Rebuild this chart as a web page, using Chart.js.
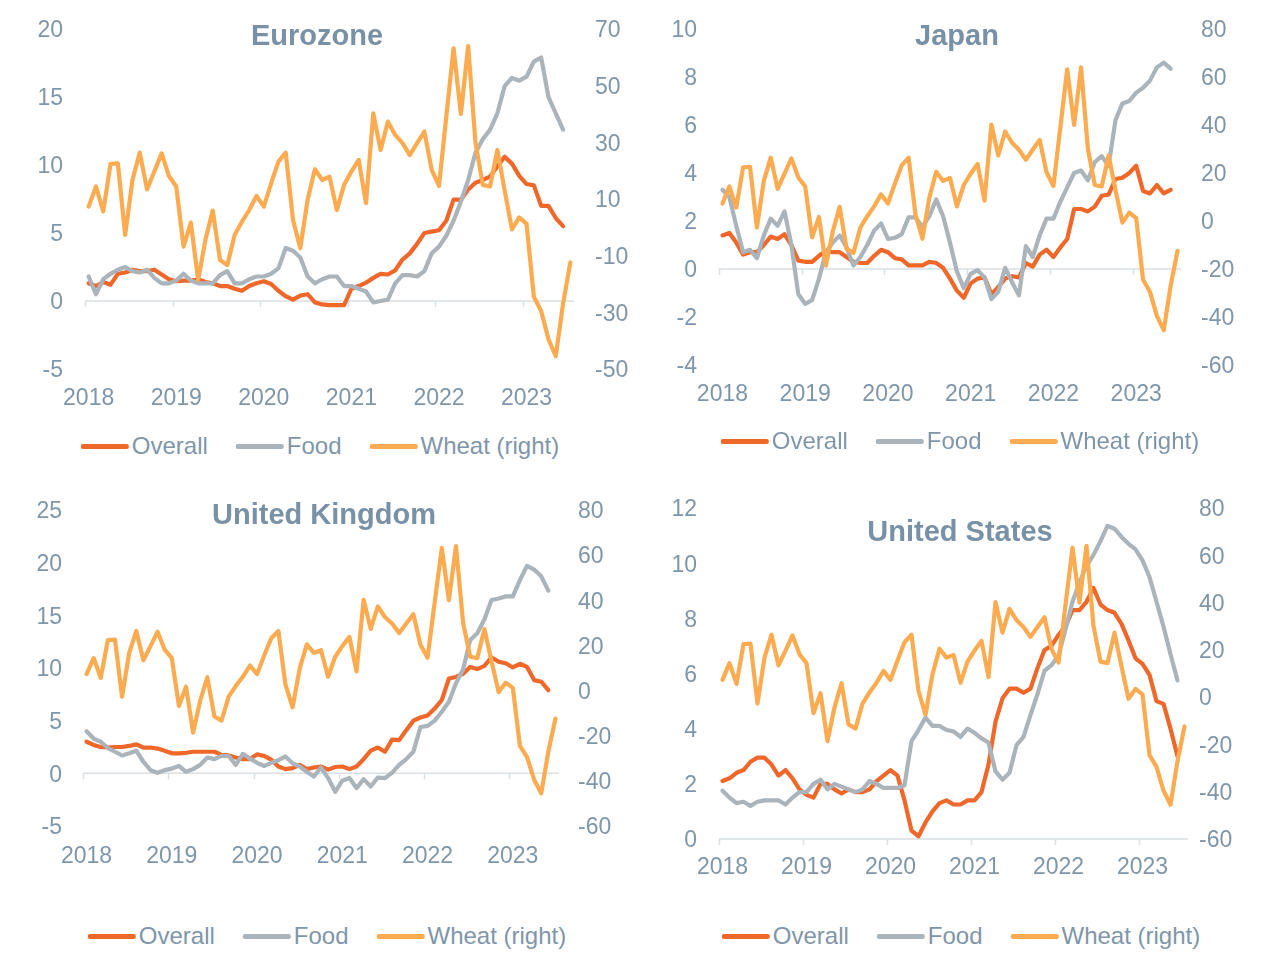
<!DOCTYPE html>
<html>
<head>
<meta charset="utf-8">
<title>Inflation and wheat prices</title>
<script src="https://cdn.jsdelivr.net/npm/chart.js@4.4.0/dist/chart.umd.min.js"></script>
<style>
  body { margin: 0; background: #ffffff; font-family: "Liberation Sans", Arial, sans-serif; }
  #page { position: relative; width: 1280px; height: 972px; overflow: hidden; }
  #page canvas { position: absolute; }
  .legend { position: absolute; display: flex; align-items: center; transform: translate(-50%, -50%);
            color: #7f96aa; font-size: 24px; white-space: nowrap; }
  .legend .item { display: flex; align-items: center; margin-right: 28px; }
  .legend .item:last-child { margin-right: 0; }
  .legend .swatch { width: 48px; height: 5px; margin-right: 3px; border-radius: 2px; }
</style>
</head>
<body>
<div id="page"></div>
<script>
// Monthly categories, Jan 2018 .. Jul 2023
var months = [
  'Jan 2018','Feb 2018','Mar 2018','Apr 2018','May 2018','Jun 2018','Jul 2018','Aug 2018','Sep 2018','Oct 2018','Nov 2018','Dec 2018',
  'Jan 2019','Feb 2019','Mar 2019','Apr 2019','May 2019','Jun 2019','Jul 2019','Aug 2019','Sep 2019','Oct 2019','Nov 2019','Dec 2019',
  'Jan 2020','Feb 2020','Mar 2020','Apr 2020','May 2020','Jun 2020','Jul 2020','Aug 2020','Sep 2020','Oct 2020','Nov 2020','Dec 2020',
  'Jan 2021','Feb 2021','Mar 2021','Apr 2021','May 2021','Jun 2021','Jul 2021','Aug 2021','Sep 2021','Oct 2021','Nov 2021','Dec 2021',
  'Jan 2022','Feb 2022','Mar 2022','Apr 2022','May 2022','Jun 2022','Jul 2022','Aug 2022','Sep 2022','Oct 2022','Nov 2022','Dec 2022',
  'Jan 2023','Feb 2023','Mar 2023','Apr 2023','May 2023','Jun 2023','Jul 2023'
];
var yearLabels = ['2018', '2019', '2020', '2021', '2022', '2023'];
var seriesNames = ['Overall', 'Food', 'Wheat (right)'];

// Wheat price, % y/y (same series in every panel, right axis)
var wheat = [
  7.3, 14.4, 5.6, 22.4, 22.6, -2.7, 16.7, 26.4, 13.4, 19.7, 26.1, 18.1,
  14.4, -6.8, 1.7, -18.6, -4.4, 5.9, -11.5, -13.3, -2.7, 2.0, 6.1, 11.1,
  7.3, 15.5, 23.2, 26.4, 2.6, -7.4, 9.7, 20.5, 16.7, 17.9, 6.1, 15.0,
  19.7, 23.8, 8.5, 40.2, 27.3, 37.3, 32.6, 29.7, 25.5, 29.7, 33.8, 20.3,
  14.6, 39.0, 63.2, 40.0, 64.0, 30.0, 15.0, 14.4, 27.3, 13.0, -0.7, 3.5,
  1.2, -24.5, -29.5, -39.5, -45.5, -27.0, -12.4
];

// Eurozone, % y/y
var ezOverall = [
  1.3, 1.1, 1.4, 1.2, 2.0, 2.1, 2.3, 2.2, 2.2, 2.3, 1.95, 1.6,
  1.45, 1.5, 1.5, 1.6, 1.4, 1.3, 1.1, 1.1, 0.9, 0.75, 1.1, 1.3,
  1.45, 1.25, 0.75, 0.35, 0.1, 0.4, 0.5, -0.1, -0.25, -0.3, -0.3, -0.3,
  0.9, 1.1, 1.35, 1.7, 2.0, 1.95, 2.25, 3.05, 3.5, 4.2, 5.0, 5.1,
  5.2, 5.9, 7.45, 7.45, 8.2, 8.7, 8.9, 9.15, 9.9, 10.6, 10.1, 9.2,
  8.6, 8.5, 7.0, 7.0, 6.1, 5.5
];
var ezFood = [
  1.8, 0.5, 1.6, 2.0, 2.3, 2.5, 2.2, 2.1, 2.3, 1.7, 1.3, 1.3,
  1.5, 2.0, 1.5, 1.3, 1.3, 1.3, 1.9, 2.2, 1.3, 1.3, 1.6, 1.8,
  1.8, 2.0, 2.4, 3.9, 3.7, 3.2, 1.8, 1.3, 1.6, 1.8, 1.8, 1.1,
  1.1, 0.9, 0.7, -0.1, 0.0, 0.1, 1.3, 1.9, 1.9, 1.8, 2.2, 3.5,
  4.0, 4.8, 5.9, 7.3, 8.9, 10.9, 11.9, 12.6, 13.8, 15.8, 16.4, 16.2,
  16.5, 17.6, 17.9, 15.0, 13.8, 12.6
];

// Japan, % y/y
var jpOverall = [
  1.4, 1.5, 1.1, 0.6, 0.7, 0.7, 1.0, 1.35, 1.25, 1.45, 1.0, 0.35,
  0.3, 0.3, 0.55, 0.75, 0.7, 0.7, 0.5, 0.3, 0.25, 0.25, 0.55, 0.8,
  0.7, 0.45, 0.4, 0.15, 0.15, 0.15, 0.3, 0.25, 0.05, -0.4, -0.9, -1.2,
  -0.6, -0.4, -0.35, -1.05, -0.75, -0.4, -0.3, -0.35, 0.25, 0.1, 0.6, 0.8,
  0.5, 0.9, 1.25, 2.5, 2.5, 2.4, 2.6, 3.05, 3.1, 3.75, 3.8, 4.0,
  4.3, 3.25, 3.15, 3.5, 3.15, 3.3
];
var jpFood = [
  3.3, 3.0, 1.8, 0.7, 0.8, 0.45, 1.4, 2.1, 1.8, 2.4, 1.0, -1.05,
  -1.45, -1.3, -0.4, 0.7, 1.1, 1.4, 0.9, 0.15, 0.5, 1.0, 1.6, 1.9,
  1.25, 1.3, 1.45, 2.15, 2.15, 1.75, 2.2, 2.9, 2.2, 1.1, -0.1, -0.8,
  -0.2, -0.05, -0.35, -1.25, -0.95, 0.05, -0.55, -1.1, 0.95, 0.5, 1.4, 2.1,
  2.1, 2.8, 3.4, 4.0, 4.1, 3.7, 4.45, 4.7, 4.3, 6.2, 6.9, 7.0,
  7.35, 7.55, 7.85, 8.4, 8.6, 8.35
];

// United Kingdom, % y/y
var ukOverall = [
  3.0, 2.7, 2.5, 2.45, 2.5, 2.5, 2.6, 2.75, 2.45, 2.45, 2.35, 2.15,
  1.9, 1.9, 1.95, 2.05, 2.05, 2.05, 2.05, 1.75, 1.7, 1.5, 1.35, 1.35,
  1.8, 1.65, 1.3, 0.65, 0.4, 0.5, 0.8, 0.4, 0.55, 0.65, 0.35, 0.6,
  0.65, 0.4, 0.65, 1.35, 2.15, 2.45, 2.05, 3.2, 3.15, 4.1, 5.0, 5.3,
  5.5, 6.15, 6.95, 9.0, 9.15, 9.45, 10.1, 9.9, 10.2, 11.0, 10.6, 10.45,
  10.05, 10.4, 10.1, 8.85, 8.7, 7.9
];
var ukFood = [
  4.0, 3.3, 3.0, 2.4, 2.05, 1.7, 1.9, 2.15, 1.1, 0.3, 0.05, 0.3,
  0.45, 0.7, 0.15, 0.4, 0.8, 1.5, 1.35, 1.65, 1.65, 0.8, 1.85, 1.4,
  1.0, 0.7, 1.0, 1.25, 1.6, 0.95, 0.65, 0.15, -0.3, 0.55, -0.45, -1.75,
  -0.7, -0.45, -1.4, -0.55, -1.25, -0.4, -0.45, 0.05, 0.8, 1.35, 2.05, 4.4,
  4.5, 5.0, 5.85, 6.8, 8.55, 9.85, 12.65, 13.3, 14.6, 16.45, 16.6, 16.8,
  16.8, 18.35, 19.7, 19.35, 18.7, 17.35
];

// United States, % y/y
var usOverall = [
  2.1, 2.2, 2.4, 2.5, 2.8, 2.95, 2.95, 2.7, 2.3, 2.5, 2.2, 1.8,
  1.6, 1.5, 2.0, 2.0, 1.8, 1.65, 1.8, 1.7, 1.7, 1.8, 2.1, 2.3,
  2.5, 2.3, 1.4, 0.3, 0.1, 0.6, 1.0, 1.3, 1.4, 1.25, 1.25, 1.4,
  1.4, 1.7, 2.7, 4.25, 5.1, 5.45, 5.45, 5.3, 5.45, 6.2, 6.85, 7.0,
  7.4, 7.7, 8.3, 8.3, 8.6, 9.1, 8.5, 8.3, 8.2, 7.8, 7.2, 6.55,
  6.35, 5.95, 5.0, 4.9, 4.0, 3.0
];
var usFood = [
  1.75, 1.5, 1.3, 1.35, 1.2, 1.35, 1.4, 1.4, 1.4, 1.25, 1.5, 1.7,
  1.7, 2.0, 2.15, 1.8, 2.0, 1.9, 1.8, 1.7, 1.8, 2.1, 2.0, 1.85,
  1.85, 1.85, 1.95, 3.55, 3.95, 4.4, 4.1, 4.1, 3.95, 3.9, 3.7, 4.0,
  3.85, 3.65, 3.5, 2.45, 2.15, 2.4, 3.4, 3.7, 4.5, 5.25, 6.1, 6.3,
  6.65, 7.6, 8.6, 9.3, 9.9, 10.3, 10.8, 11.35, 11.25, 10.95, 10.7, 10.5,
  10.1, 9.5, 8.6, 7.7, 6.7, 5.75
];

var COLORS = ['#f0672a', '#aab4ba', '#fdab50'];
var TEXT_COLOR = '#7f96aa';
var TITLE_COLOR = '#7891a6';
var AXIS_COLOR = '#d9e0e6';

// Panel layout (page coordinates). area = where the plot area must land.
var panels = [
  { title: 'Eurozone', overall: ezOverall, food: ezFood,
    left: { min: -5, max: 20, step: 5 }, right: { min: -50, max: 70, step: 20 },
    box: { x: 0, y: 0, w: 640, h: 430 }, area: { left: 85, right: 574, top: 29, bottom: 369 },
    leftPad: 22, rightPad: 21, xPad: 16, titleX: 317, titleY: 37, legendX: 320, legendY: 446 },
  { title: 'Japan', overall: jpOverall, food: jpFood,
    left: { min: -4, max: 10, step: 2 }, right: { min: -60, max: 80, step: 20 },
    box: { x: 640, y: 0, w: 640, h: 430 }, area: { left: 719, right: 1181, top: 29, bottom: 365 },
    leftPad: 22, rightPad: 20, xPad: 16, titleX: 957, titleY: 37, legendX: 960, legendY: 441 },
  { title: 'United Kingdom', overall: ukOverall, food: ukFood,
    left: { min: -5, max: 25, step: 5 }, right: { min: -60, max: 80, step: 20 },
    box: { x: 0, y: 480, w: 640, h: 430 }, area: { left: 83, right: 559, top: 510, bottom: 826 },
    leftPad: 21, rightPad: 19, xPad: 17, titleX: 324, titleY: 516, legendX: 327, legendY: 936 },
  { title: 'United States', overall: usOverall, food: usFood,
    left: { min: 0, max: 12, step: 2 }, right: { min: -60, max: 80, step: 20 },
    box: { x: 640, y: 480, w: 640, h: 430 }, area: { left: 719, right: 1188, top: 508, bottom: 839 },
    leftPad: 22, rightPad: 11, xPad: 15, titleX: 960, titleY: 533, legendX: 961, legendY: 936 }
];

Chart.defaults.font.family = '"Liberation Sans", Arial, sans-serif';
Chart.defaults.color = TEXT_COLOR;

/**
 * Draws the zero line with short year ticks hanging below it.
 */
var zeroAxisPlugin = {
  id: 'zeroAxis',
  beforeDatasetsDraw: function (chart) {
    var ctx = chart.ctx;
    var area = chart.chartArea;
    var xs = chart.scales.x;
    var y0 = chart.scales.y.getPixelForValue(0);
    var half = (xs.getPixelForValue(1) - xs.getPixelForValue(0)) / 2;
    ctx.save();
    ctx.strokeStyle = AXIS_COLOR;
    ctx.lineWidth = 1.5;
    ctx.beginPath();
    ctx.moveTo(area.left, y0);
    ctx.lineTo(area.right, y0);
    for (var i = 0; i < months.length; i += 12) {
      var px = Math.round(xs.getPixelForValue(i) - half) + 0.5;
      ctx.moveTo(px, y0);
      ctx.lineTo(px, y0 + 6);
    }
    ctx.stroke();
    ctx.restore();
  }
};

/**
 * Draws the panel title inside the plot, like the source workbook does.
 */
var panelTitlePlugin = {
  id: 'panelTitle',
  afterDraw: function (chart, args, opts) {
    var ctx = chart.ctx;
    ctx.save();
    ctx.font = 'bold 29px "Liberation Sans", Arial, sans-serif';
    ctx.fillStyle = TITLE_COLOR;
    ctx.textAlign = 'center';
    ctx.textBaseline = 'middle';
    ctx.fillText(opts.text, opts.x, opts.y);
    ctx.restore();
  }
};

// Fix an axis to a given size and stop its labels from pushing the plot area around.
function pinAxis(scale, size) {
  if (scale.isHorizontal()) {
    scale.height = size;
  } else {
    scale.width = size;
  }
  scale.paddingTop = 0;
  scale.paddingBottom = 0;
  scale.paddingLeft = 0;
  scale.paddingRight = 0;
}

function buildLegend(p) {
  var page = document.getElementById('page');
  var div = document.createElement('div');
  div.className = 'legend';
  div.style.left = p.legendX + 'px';
  div.style.top = p.legendY + 'px';
  seriesNames.forEach(function (name, i) {
    var item = document.createElement('div');
    item.className = 'item';
    var sw = document.createElement('span');
    sw.className = 'swatch';
    sw.style.background = COLORS[i];
    var txt = document.createElement('span');
    txt.textContent = name;
    item.appendChild(sw);
    item.appendChild(txt);
    div.appendChild(item);
  });
  page.appendChild(div);
}

function renderPanel(p) {
  var page = document.getElementById('page');
  var canvas = document.createElement('canvas');
  canvas.width = p.box.w;
  canvas.height = p.box.h;
  canvas.style.left = p.box.x + 'px';
  canvas.style.top = p.box.y + 'px';
  canvas.style.width = p.box.w + 'px';
  canvas.style.height = p.box.h + 'px';
  page.appendChild(canvas);

  var tickFont = { size: 23 };
  var noGrid = { display: false, drawTicks: false };

  new Chart(canvas.getContext('2d'), {
    type: 'line',
    data: {
      labels: months,
      datasets: [
        { label: seriesNames[0], data: p.overall, borderColor: COLORS[0], backgroundColor: COLORS[0], yAxisID: 'y', order: 3 },
        { label: seriesNames[1], data: p.food, borderColor: COLORS[1], backgroundColor: COLORS[1], yAxisID: 'y', order: 2 },
        { label: seriesNames[2], data: wheat, borderColor: COLORS[2], backgroundColor: COLORS[2], yAxisID: 'y1', order: 1 }
      ]
    },
    options: {
      responsive: false,
      animation: false,
      devicePixelRatio: 1,
      layout: { padding: { top: p.area.top - p.box.y, left: 0, right: 0, bottom: 0 } },
      elements: {
        line: { borderWidth: 4.2, tension: 0, fill: false, borderJoinStyle: 'round', borderCapStyle: 'round' },
        point: { radius: 0, hoverRadius: 0 }
      },
      datasets: { line: { clip: false } },
      scales: {
        x: {
          type: 'category',
          offset: true,
          grid: noGrid,
          border: { display: false },
          ticks: {
            autoSkip: false,
            maxRotation: 0,
            padding: p.xPad,
            color: TEXT_COLOR,
            font: tickFont,
            callback: function (value, index) {
              return index % 12 === 0 ? yearLabels[index / 12] : null;
            }
          },
          afterFit: function (scale) { pinAxis(scale, p.box.y + p.box.h - p.area.bottom); }
        },
        y: {
          position: 'left',
          min: p.left.min,
          max: p.left.max,
          grid: noGrid,
          border: { display: false },
          ticks: { stepSize: p.left.step, padding: p.leftPad, labelOffset: 2, color: TEXT_COLOR, font: tickFont },
          afterFit: function (scale) { pinAxis(scale, p.area.left - p.box.x); }
        },
        y1: {
          position: 'right',
          min: p.right.min,
          max: p.right.max,
          grid: noGrid,
          border: { display: false },
          ticks: { stepSize: p.right.step, padding: p.rightPad, labelOffset: 2, color: TEXT_COLOR, font: tickFont },
          afterFit: function (scale) { pinAxis(scale, p.box.x + p.box.w - p.area.right); }
        }
      },
      plugins: {
        legend: { display: false },
        tooltip: { enabled: false },
        panelTitle: { text: p.title, x: p.titleX - p.box.x, y: p.titleY - p.box.y }
      }
    },
    plugins: [zeroAxisPlugin, panelTitlePlugin]
  });

  buildLegend(p);
}

panels.forEach(renderPanel);
</script>
</body>
</html>
